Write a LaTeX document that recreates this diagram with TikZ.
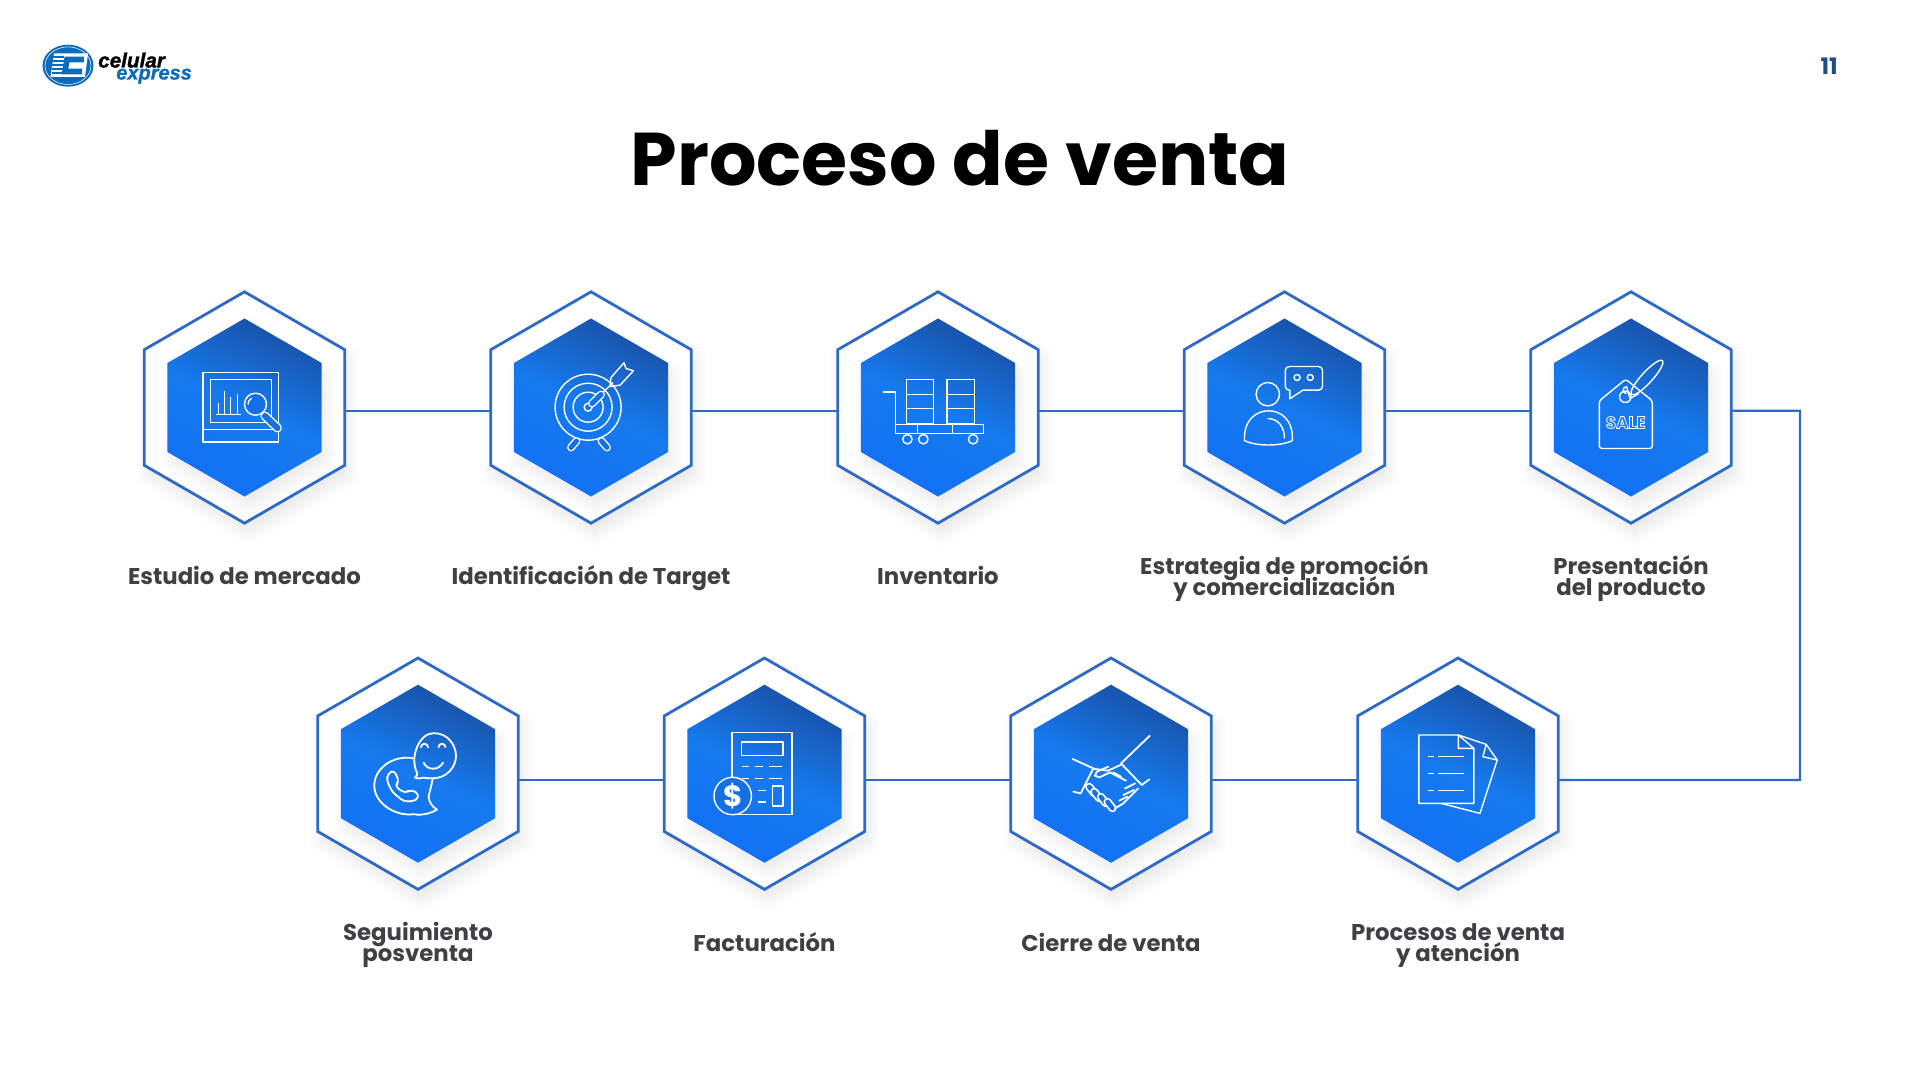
\documentclass[tikz,border=0pt]{standalone}
\usepackage{fontspec}
\setmainfont{Poppins}
\newfontfamily\logofont{Liberation Sans}[FakeBold=1.3]
\usetikzlibrary{positioning,shapes.geometric}

\normallineskiplimit=-50pt
\lineskiplimit=-50pt
\newcommand{\labtop}{\vrule height13pt depth0pt width0pt\relax}
\newcommand{\labbot}{\vrule height0pt depth4pt width0pt\relax}

\definecolor{hexline}{HTML}{2F69C6}
\definecolor{hexdark}{HTML}{1A52A8}
\definecolor{hexmid}{HTML}{167AEE}
\definecolor{hexlow}{HTML}{1170F5}
\definecolor{iconfill}{HTML}{1570E6}
\definecolor{labelgray}{HTML}{3F3F46}
\definecolor{shadowgray}{HTML}{5A6478}
\definecolor{logoblue}{HTML}{0B6BBC}
\definecolor{pagenavy}{HTML}{1F4C86}

\tikzset{
  outerhex/.style={regular polygon,regular polygon sides=6,shape border rotate=30,minimum size=173.5pt,inner sep=0pt,outer sep=0pt,draw=hexline,line width=2.1pt,fill=white},
  innerhex/.style={regular polygon,regular polygon sides=6,shape border rotate=30,minimum size=133.5pt,inner sep=0pt,outer sep=0pt,top color=hexdark,bottom color=hexlow,middle color=hexmid,shading angle=-25},
  link/.style={draw=hexline,line width=1.7pt},
  icon/.style={draw=white,line width=1.05pt,line join=round},
  thickicon/.style={draw=white,line width=1.35pt,line join=round,line cap=round},
  capsule/.style={draw=white,line width=1.05pt,double=iconfill,double distance=3.8pt,line cap=round},
  steplabel/.style={anchor=center,align=center,text=labelgray,font=\bfseries\fontsize{17.1}{15.8}\selectfont,inner sep=0pt},
}

% blurred hexagon under each cell
\newcommand{\softhex}[3]{%
  \foreach \g in {0,...,8}
    \fill[shadowgray,opacity=0.012] (#1+4,#2+10) +(90:{#3-6+2.4*\g}) -- +(150:{#3-6+2.4*\g}) -- +(210:{#3-6+2.4*\g}) -- +(270:{#3-6+2.4*\g}) -- +(330:{#3-6+2.4*\g}) -- +(30:{#3-6+2.4*\g}) -- cycle;}

\begin{document}
\begin{tikzpicture}[x=0.75pt,y=-0.75pt]
  \useasboundingbox (0,0) rectangle (1920,1080);
  \fill[white] (0,0) rectangle (1920,1080);

  % logo
  \fill[logoblue] (68,65.7) ellipse (25.5 and 21);
  \draw[white,line width=0.4pt] (68,65.7) ellipse (23 and 18.8);
  \fill[white] (54,53.5) -- (88,53.5) -- (85,77) -- (50.5,77) -- cycle;
  \draw[logoblue,line width=4.2pt] (84,59.5) -- (67,59.5) -- (65,71.5) -- (82,71.5);
  \foreach \sy in {57,61,65,69,73}
    \draw[logoblue,line width=0.8pt] (52,\sy) -- (64,\sy);
  \node[inner sep=0pt,anchor=base west,font=\logofont\bfseries\itshape\fontsize{15.5}{16}\selectfont] (celular) at (98,67.5) {celular};
  \node[inner sep=0pt,anchor=base west,text=logoblue,font=\logofont\bfseries\itshape\fontsize{15}{16}\selectfont] (express) at (116,79.5) {express};

  \node[inner sep=0pt,text=pagenavy,font=\bfseries\fontsize{17}{17}\selectfont] (pagenum) at (1829,66) {11};
  \node[inner sep=0pt,font=\bfseries\fontsize{56}{56}\selectfont] (title) at (960,158) {Proceso de venta};

  % cells
  \foreach \nm/\cx/\cy in {estudio/244.5/407.5,target/591/407.5,inventario/938/407.5,estrategia/1284.5/407.5,producto/1631/407.5,posventa/418/773.7,factura/764.5/773.7,cierre/1111/773.7,atencion/1458/773.7}{
    \softhex{\cx}{\cy}{115.7}
    \node[outerhex] (\nm) at (\cx,\cy) {};
    \softhex{\cx}{\cy}{87}
    \node[innerhex] (\nm in) at (\cx,\cy) {};
  }

  % connectors
  \draw[link] ([yshift=-2.4pt]estudio.east) -- ([yshift=-2.4pt]target.west);
  \draw[link] ([yshift=-2.4pt]target.east) -- ([yshift=-2.4pt]inventario.west);
  \draw[link] ([yshift=-2.4pt]inventario.east) -- ([yshift=-2.4pt]estrategia.west);
  \draw[link] ([yshift=-2.4pt]estrategia.east) -- ([yshift=-2.4pt]producto.west);
  \coordinate (turnup) at (1800,410.7);
  \coordinate (turndown) at (1800,780);
  \draw[link] ([yshift=-2.4pt]producto.east) -- (turnup) -- (turndown) -- ([yshift=-4.7pt]atencion.east);
  \draw[link] ([yshift=-4.7pt]atencion.west) -- ([yshift=-4.7pt]cierre.east);
  \draw[link] ([yshift=-4.7pt]cierre.west) -- ([yshift=-4.7pt]factura.east);
  \draw[link] ([yshift=-4.7pt]factura.west) -- ([yshift=-4.7pt]posventa.east);

  % labels
  \node[below=41.2pt of estudio,steplabel] (lestudio) {\labtop Estudio de mercado\labbot};
  \node[below=41.2pt of target,steplabel] (ltarget) {\labtop Identificación de Target\labbot};
  \node[below=41.2pt of inventario,steplabel] (linventario) {\labtop Inventario\labbot};
  \node[below=41.2pt of estrategia,steplabel] (lestrategia) {\labtop Estrategia de promoción\\\labtop y comercialización\labbot};
  \node[below=41.2pt of producto,steplabel] (lproducto) {\labtop Presentación\\\labtop del producto\labbot};
  \node[below=41.8pt of posventa,steplabel] (lposventa) {\labtop Seguimiento\\\labtop posventa\labbot};
  \node[below=41.8pt of factura,steplabel] (lfactura) {\labtop Facturación\labbot};
  \node[below=41.8pt of cierre,steplabel] (lcierre) {\labtop Cierre de venta\labbot};
  \node[below=41.8pt of atencion,steplabel] (latencion) {\labtop Procesos de venta\\\labtop y atención\labbot};

  % icon: chart and lens
  \begin{scope}[shift={(estudio.center)}]
    \draw[icon] (-41.6,-35) rectangle (33.9,34.3);
    \draw[icon] (-41.6,22) -- (33.9,22);
    \draw[icon] (-34.3,-28) rectangle (26.9,14.7);
    \foreach \bx/\by in {-26/-4.7,-20/-16.3,-14/-10.7,-7.3/-13.3}
      \draw[icon] (\bx,7) -- (\bx,\by);
    \draw[icon] (-29,7) -- (-3.7,7);
    \fill[iconfill] (15,5) -- (33,25) -- (38,20) -- (20,1) -- cycle;
    \draw[icon,fill=iconfill] (11,-3.3) circle (11);
    \draw[icon] (3.5,-3) arc (180:240:7.5);
    \draw[capsule,double distance=4.6pt] (20.5,8.5) -- (33,20.5);
  \end{scope}

  % icon: target and dart
  \begin{scope}[shift={(target.center)}]
    \draw[icon] (-2.9,-0.3) circle (33);
    \draw[icon] (-2.9,-0.3) circle (24);
    \draw[icon] (-2.9,-0.3) circle (15);
    \draw[icon] (-2.9,-0.3) circle (4);
    \draw[capsule] (-20,40) -- (-14.5,33.5);
    \draw[capsule] (16,40) -- (10.5,33.5);
    \draw[capsule] (1,-4) -- (10,-13);
    \draw[icon] (12,-15) -- (22,-25);
    \draw[icon] (20,-30) -- (33,-44.7) -- (35,-39) -- (42.4,-36.7) -- (29,-22.3);
    \draw[icon] (20,-30) -- (19,-21) -- (29,-22.3);
  \end{scope}

  % icon: trolley
  \begin{scope}[shift={(inventario.center)}]
    \foreach \sx in {-31.8,9}{
      \draw[icon] (\sx,-28) rectangle (\sx+27.5,16.5);
      \draw[icon] (\sx,-12.7) -- (\sx+27.5,-12.7);
      \draw[icon] (\sx,1.3) -- (\sx+27.5,1.3);
    }
    \draw[icon] (-42.4,16.7) rectangle (45.3,26);
    \draw[icon] (-20.8,16.7) -- (-20.8,26);
    \draw[icon] (14.7,16.7) -- (14.7,26);
    \draw[icon] (-55,-15.3) -- (-42.4,-15.3) -- (-42.4,16.7);
    \foreach \wx in {-30.6,-14.7,35.1}
      \draw[icon] (\wx,31.7) circle (4.7);
  \end{scope}

  % icon: person with speech bubble
  \begin{scope}[shift={(estrategia.center)}]
    \draw[icon] (-16.7,-13.3) circle (11.7);
    \draw[icon] (-40,33) .. controls (-41,12) and (-28,3.3) .. (-16,3.3) .. controls (-4,3.3) and (9,12) .. (7.8,33) .. controls (-3,39) and (-29,39) .. (-40,33) -- cycle;
    \draw[icon] (-17,11) .. controls (-6,11) and (0,20) .. (0,31);
    \draw[icon,rounded corners=3] (5.3,-17.3) -- (0.8,-17.3) -- (0.8,-41) -- (38,-41) -- (38,-17.3) -- (18.4,-17.3);
    \draw[icon] (5.3,-17.3) -- (5.3,-8.7) -- (18.4,-17.3);
    \draw[icon] (12.6,-30) circle (3);
    \draw[icon] (25.7,-30) circle (3);
  \end{scope}

  % icon: price tag
  \begin{scope}[shift={(producto.center)}]
    \draw[icon,rounded corners=2] (-5.3,-28.3) -- (21.3,-6.7) -- (21.3,41) -- (-31.7,41) -- (-31.7,-6.7) -- cycle;
    \draw[icon] (-5.7,-10.7) circle (5.7);
    \draw[icon] (-4.5,-14) arc (90:270:3.4) -- (-1,-9);
    \draw[icon,rotate around={47.6:(16,-30)}] (16,-30) ellipse (23 and 5.5);
    \draw[icon] (-1,-9) -- (8,-14);
    \node[inner sep=0pt,text=white,font=\bfseries\fontsize{12.6}{12.6}\selectfont] (saletag) at (-5.3,15) {\special{pdf:code q 1 1 1 RG 0.6 w 1 Tr}SALE\special{pdf:code Q}};
  \end{scope}

  % icon: phone and smiling bubble
  \begin{scope}[shift={(posventa.center)}]
    \draw[thickicon] (-5,-15.5) .. controls (-25,-19) and (-44,-5) .. (-43.7,12) .. controls (-43.7,30) and (-22,43) .. (-4,40.5) .. controls (3,42) and (12,40) .. (19,36) .. controls (14,33) and (11,28) .. (10.6,23) .. controls (12,16) and (14,10) .. (14.7,4.7);
    \draw[thickicon] (5,4) .. controls (3,5) and (0,5) .. (-3,4) .. controls (-1,2) and (0,0) .. (-1,-1) .. controls (-9,-17) and (2,-41) .. (15.5,-40.5) .. controls (30,-41) and (38,-28) .. (38,-18) .. controls (38,-6) and (28,4.5) .. (15.5,4.5) .. controls (11,4.5) and (8,4.5) .. (5,4);
    \draw[thickicon,rounded corners=3] (-30,-0.3) -- (-24,-3.7) -- (-18.8,8) -- (-23.3,12.3) -- (-12.7,19.7) -- (-7.8,15.7) -- (1.2,20.3) -- (-1.6,27) -- (-13.9,28) -- (-26,18) -- (-31.4,6.3) -- cycle;
    \draw[thickicon] (3,-26.5) arc (180:360:3.5);
    \draw[thickicon] (20.5,-26.5) arc (180:360:3.5);
    \draw[thickicon] (5.7,-11) .. controls (9,-3) and (21,-3) .. (25,-11);
  \end{scope}

  % icon: calculator and coin
  \begin{scope}[shift={(factura.center)}]
    \draw[icon] (-32.7,-41) rectangle (27.3,41);
    \draw[icon] (-23.3,-31.7) rectangle (18.4,-18);
    \foreach \dy in {-7,4.7}{
      \draw[icon] (-22.4,\dy) -- (-15.5,\dy);
      \draw[icon] (-9.4,\dy) -- (-1.2,\dy);
      \draw[icon] (4.9,\dy) -- (17.1,\dy);
    }
    \draw[icon] (-6.5,16.7) -- (1.6,16.7);
    \draw[icon] (-6.5,28.3) -- (1.6,28.3);
    \draw[icon] (8.2,12.3) rectangle (18.4,32.3);
    \draw[icon,fill=iconfill] (-31.8,22.3) circle (18.7);
    \node[inner sep=0pt,text=white,font=\bfseries\fontsize{22}{22}\selectfont] (coin) at (-31.8,22.3) {\$};
  \end{scope}

  % icon: handshake
  \begin{scope}[shift={(cierre.center)}]
    \draw[thickicon] (38.8,-38) -- (10,-10.3) -- (30.7,11.3) -- (38.3,5.7);
    \draw[thickicon] (-38.3,-14.7) -- (-17.7,-5.3) -- (-30.3,19.7) -- (-37.7,18);
    \draw[thickicon] (-17.7,-5) -- (-3,-3) -- (10,-9);
    \draw[thickicon] (-2.7,-7) -- (-14.3,-2) -- (-16,2) -- (-11.7,3.7) -- (-1,-1.3) -- (15,7);
    \draw[thickicon] (2.3,-1.3) -- (10,3);
    \foreach \fx/\fy in {-19.3/16.3,-14.3/21.3,-7.7/26.3,-1/31.3}
      \draw[capsule,line width=1.35pt,double distance=3.4pt] (\fx-2.5,\fy-3.2) -- (\fx+2.5,\fy+3.2);
    \draw[thickicon] (27.3,14.7) -- (12.3,29.7) -- (4,34.7);
    \draw[thickicon] (24,9.7) -- (14,14.7);
    \draw[thickicon] (23,16.3) -- (12.3,21.3);
    \draw[thickicon] (16.3,23) -- (8.3,27);
  \end{scope}

  % icon: documents
  \begin{scope}[shift={(atencion.center)}]
    \draw[icon] (0.4,-38.7) -- (-39.2,-38.7) -- (-39.2,29.7) -- (15.9,29.7) -- (15.9,-25.3) -- (0.4,-38.7) -- (0.4,-25.3) -- (15.9,-25.3);
    \foreach \ly in {-17.3,-0.3,16.7}{
      \draw[icon] (-29.8,\ly) -- (-24,\ly);
      \draw[icon] (-19.6,\ly) -- (6.1,\ly);
    }
    \draw[icon] (0.4,-38.7) -- (28.2,-29.3) -- (39.2,-13.7) -- (22,39.7) -- (-16.7,29.7);
    \draw[icon] (28.2,-29.3) -- (24.9,-17) -- (39.2,-13.7);
  \end{scope}
\end{tikzpicture}
\end{document}
